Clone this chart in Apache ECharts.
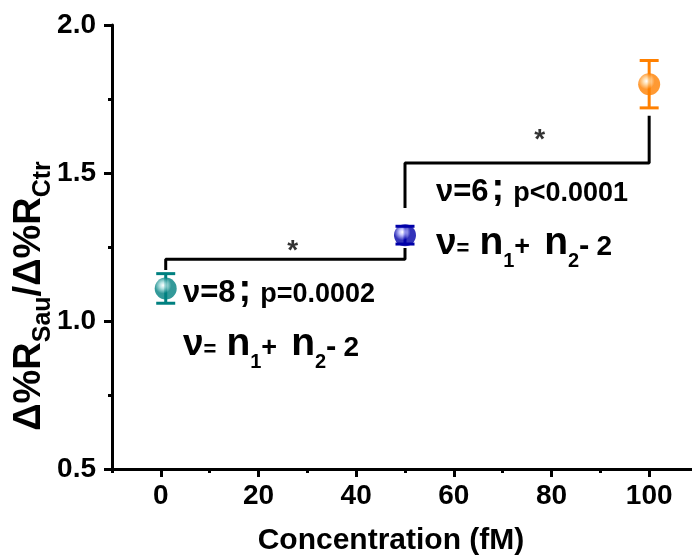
<!DOCTYPE html>
<html><head><meta charset="utf-8">
<script src="https://cdn.jsdelivr.net/npm/echarts@6/dist/echarts.min.js"></script>
<style>html,body{margin:0;padding:0;background:#fff}#c{width:692px;height:558px}</style>
</head><body><div id="c"></div>
<script>
// ---- data ----
const concentrations = [1, 50, 100];
const ratios = [1.11, 1.29, 1.80];
const errors = [0.05, 0.03, 0.08];
const pointColors = ['#008080', '#0000a8', '#ff8000'];
const pointHighlights = ['#a8dede', '#b8b8ff', '#ffd8a0'];
const xCategoryTicks = ['-10','0','10','20','30','40','50','60','70','80','90','100','110'];
const yTickLabels = ['0.5','1.0','1.5','2.0'];
const bracket1X = [1, 1, 50, 50];
const bracket1Y = [1.172, 1.209, 1.209, 1.247];
const bracket2X = [50, 50, 100, 100];
const bracket2Y = [1.382, 1.534, 1.534, 1.693];
const starX = [27, 77.6];
const starY = [1.257, 1.632];
const degreesFreq = ['8', '6'];
const pValues = ['p=0.0002', 'p<0.0001'];
const xName = 'Concentration (fM)';

// ---- text helpers ----
const FAM = '"Liberation Sans", Arial, Helvetica, sans-serif';
const ctx = document.createElement('canvas').getContext('2d');
function fontOf(s){ return 'bold ' + s + 'px ' + FAM; }
function measure(t, s){ ctx.font = fontOf(s); return ctx.measureText(t).width; }
function runPieces(pieces){
  let x = 0; const ch = [];
  pieces.forEach(p => {
    x += p.pre || 0;
    ch.push({type:'text', x: x, y: (p.dy || 0) - 0.3465 * p.s,
      style:{text:p.t, font:fontOf(p.s), fill:'#000', textAlign:'left', align:'left', textVerticalAlign:'middle', verticalAlign:'middle'}});
    x += measure(p.t, p.s);
  });
  return {children: ch, width: x};
}
function line1(i){ return [{t:'ν=' + degreesFreq[i], s:31}, {t:';', s:38, pre:3}, {t:pValues[i], s:27, pre:9}]; }
const line2 = [{t:'ν', s:37}, {t:'=', s:22}, {t:'n', s:39, pre:10}, {t:'1', s:20, dy:11}, {t:'+', s:27},
  {t:'n', s:39, pre:14}, {t:'2', s:20, dy:11}, {t:'-', s:31}, {t:'2', s:28, pre:7}];
function block(x, y, pieces){ const r = runPieces(pieces); return {type:'group', x:x, y:y, children:r.children}; }

const yName = runPieces([{t:'Δ%R', s:38}, {t:'Sau', s:25, dy:9}, {t:'/Δ%R', s:38}, {t:'Ctr', s:25, dy:9}]);

const chart = echarts.init(document.getElementById('c'), null, {renderer:'canvas'});
const lineStyleBlack = {color:'#000', width:3};

function sphere(i){
  return {type:'radial', x:0.38, y:0.36, r:0.62,
    colorStops:[{offset:0, color:'#ffffff'}, {offset:0.22, color:pointHighlights[i]}, {offset:0.6, color:pointColors[i]}, {offset:1, color:pointColors[i]}]};
}

chart.setOption({
  animation:false,
  backgroundColor:'#fff',
  grid:{left:112, top:25, width:586, height:444, containLabel:false, outerBoundsMode:'none'},
  xAxis:[
    {type:'value', min:-10, max:110, interval:10, position:'bottom',
     axisLine:{show:true, onZero:false, lineStyle:lineStyleBlack},
     axisTick:{show:true, length:4, lineStyle:lineStyleBlack},
     axisLabel:{show:false}, splitLine:{show:false}},
    {type:'category', data:xCategoryTicks, boundaryGap:false, position:'bottom', gridIndex:0,
     axisLine:{show:false, onZero:false},
     axisTick:{show:true, interval:(i)=> i % 2 === 1, length:8, lineStyle:lineStyleBlack},
     axisLabel:{interval:(i)=> i % 2 === 1, fontSize:28, fontWeight:'bold', fontFamily:FAM, color:'#000', margin:13},
     splitLine:{show:false}}
  ],
  yAxis:{type:'value', min:0.5, max:2.0, interval:0.5,
    axisLine:{show:true, onZero:false, lineStyle:lineStyleBlack},
    axisTick:{show:true, length:8, lineStyle:lineStyleBlack},
    minorTick:{show:true, splitNumber:2, length:4, lineStyle:lineStyleBlack},
    axisLabel:{formatter:(v)=> yTickLabels[Math.round((v-0.5)/0.5)] || v.toFixed(1), fontSize:28, fontWeight:'bold', fontFamily:FAM, color:'#000', margin:16},
    splitLine:{show:false}, minorSplitLine:{show:false}},
  series:[
    {type:'line', xAxisIndex:0, data:bracket1X.map((x,i)=>[x, bracket1Y[i]]), symbol:'none', lineStyle:lineStyleBlack, z:1, silent:true},
    {type:'line', xAxisIndex:0, data:bracket2X.map((x,i)=>[x, bracket2Y[i]]), symbol:'none', lineStyle:lineStyleBlack, z:1, silent:true},
    {type:'custom', xAxisIndex:0, z:2, silent:true,
     data:concentrations.map((c,i)=>[c, ratios[i]-errors[i], ratios[i]+errors[i], i]),
     renderItem:(params, api)=>{
       const lo = api.coord([api.value(0), api.value(1)]);
       const hi = api.coord([api.value(0), api.value(2)]);
       return {type:'line', shape:{x1:lo[0], y1:lo[1], x2:hi[0], y2:hi[1]}, style:{stroke:pointColors[api.value(3)], lineWidth:3}};
     }},
    {type:'scatter', xAxisIndex:0, z:3, symbol:'circle', symbolSize:22, silent:true,
     data:concentrations.map((c,i)=>({value:[c, ratios[i]], itemStyle:{color:sphere(i)}}))},
    {type:'custom', xAxisIndex:0, z:4, silent:true,
     data:concentrations.map((c,i)=>[c, ratios[i]-errors[i], ratios[i]+errors[i], i]),
     renderItem:(params, api)=>{
       const lo = api.coord([api.value(0), api.value(1)]);
       const hi = api.coord([api.value(0), api.value(2)]);
       const st = {stroke:pointColors[api.value(3)], lineWidth:3};
       return {type:'group', children:[
         {type:'line', shape:{x1:lo[0]-9.5, y1:lo[1], x2:lo[0]+9.5, y2:lo[1]}, style:st},
         {type:'line', shape:{x1:hi[0]-9.5, y1:hi[1], x2:hi[0]+9.5, y2:hi[1]}, style:st}
       ]};
     }},
    {type:'scatter', xAxisIndex:0, z:5, symbolSize:0, silent:true,
     data:starX.map((x,i)=>[x, starY[i]]),
     label:{show:true, position:'inside', formatter:'*', fontSize:28, fontWeight:'bold', fontFamily:FAM, color:'#000', offset:[0,6]}}
  ],
  graphic:[
    block(183, 304, line1(0)),
    block(183, 358, line2),
    block(436, 203, line1(1)),
    block(436, 257, line2),
    {type:'group', x:43, y:296 + yName.width/2, rotation:Math.PI/2, children:yName.children},
    {type:'text', x:391, y:541, style:{text:xName, font:fontOf(30), fill:'#000', textAlign:'center', align:'center', textVerticalAlign:'middle', verticalAlign:'middle'}}
  ]
});
</script></body></html>
